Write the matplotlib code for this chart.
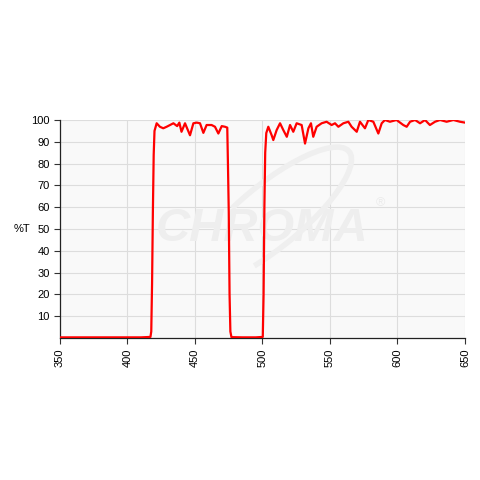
import matplotlib
matplotlib.use("Agg")
import matplotlib.pyplot as plt
from matplotlib.patches import Arc

plt.rcParams['font.family'] = ['Liberation Sans', 'DejaVu Sans']

# transmission curve (wavelength nm, %T)
wavelength = [350, 380, 410, 417.0, 417.6, 418.2, 418.8, 419.4, 420.0, 421.6, 424, 426.5,
              429, 431.5, 434, 436.8, 438.4, 440, 442.6, 446.3, 448.8, 451.3, 453.7,
              456.2, 458.6, 462.3, 464.8, 467.3, 469.8, 472.2, 473.9, 474.4, 475.0,
              475.6, 476.2, 477.0, 485, 495, 500.2, 500.8, 501.4, 502.0, 502.8,
              504.3, 506.8, 508, 510.5, 513, 515.4, 518, 520.4, 522.8, 525.3, 529,
              531.5, 534, 535.9, 537.6, 540.1, 543.8, 547.5, 551.2, 553.7, 556.2,
              559.9, 563.6, 566, 569.8, 572.2, 575.9, 578.4, 582.1, 585.8, 588.3,
              590.7, 594.4, 599.3, 604.3, 606.8, 609.3, 613, 616.7, 620.4, 624,
              627.8, 631.5, 636.4, 641.4, 646.3, 650]
transmission = [0.3, 0.3, 0.3, 0.5, 3, 25, 58, 84, 95, 98.5, 96.9, 96.2,
                96.9, 97.7, 98.5, 97.2, 98.8, 94.6, 98.5, 93.0, 98.5, 98.8, 98.5,
                94.1, 97.7, 97.7, 96.9, 93.8, 97.2, 96.9, 96.5, 80, 58, 20,
                3, 0.4, 0.3, 0.3, 0.5, 20, 60, 85, 94,
                96.9, 93.0, 90.8, 95.4, 98.5, 95.4, 92.3, 97.7, 94.6, 98.5, 97.7,
                89.2, 96.2, 98.5, 92.3, 96.9, 98.5, 99.2, 97.7, 98.5, 96.9,
                98.5, 99.2, 96.9, 94.6, 99.2, 96.2, 100, 99.2, 93.8, 98.5,
                100, 99.2, 100, 97.7, 96.9, 99.2, 100, 98.5, 100, 97.7,
                99.2, 100, 99.2, 100, 99.2, 98.8]

x_ticks = [350, 400, 450, 500, 550, 600, 650]
y_ticks = [10, 20, 30, 40, 50, 60, 70, 80, 90, 100]

fig = plt.figure(figsize=(4.8, 4.8), dpi=100)
ax = fig.add_axes([0.125, 0.2958, 0.84375, 0.4542])
ax.set_facecolor('#f9f9f9')

# faint watermark
ax.text(0.5, 0.5, 'CHROMA', transform=ax.transAxes, ha='center', va='center',
        fontsize=34, fontweight='bold', fontstyle='italic', color='#eeeeee', zorder=1)
ax.text(0.79, 0.62, '®', transform=ax.transAxes, ha='center', va='center',
        fontsize=9, color='#ebebeb', zorder=1)
ax.add_patch(Arc((0.52, 0.56), 0.2, 0.72, angle=-30, theta1=-70, theta2=190,
                 transform=ax.transAxes, color='#efefef', lw=4, zorder=1))

ax.plot(wavelength, transmission, color='#ff0000', lw=1.6, zorder=3)

ax.set_xlim(350, 650)
ax.set_ylim(0, 100)
ax.set_xticks(x_ticks)
ax.set_yticks(y_ticks)
ax.tick_params(axis='x', labelrotation=90, labelsize=8, length=4, color='#333333')
ax.tick_params(axis='y', labelsize=8, length=4, color='#333333')
ax.grid(True, color='#dddddd', lw=0.8, zorder=0)
ax.set_axisbelow(True)
for s in ['top', 'right']:
    ax.spines[s].set_visible(False)
for s in ['left', 'bottom']:
    ax.spines[s].set_color('#222222')
    ax.spines[s].set_linewidth(0.9)

fig.text(22 / 480, 1 - 229 / 480, '%T', fontsize=8, ha='center', va='center')

fig.savefig('out.png', dpi=100)
